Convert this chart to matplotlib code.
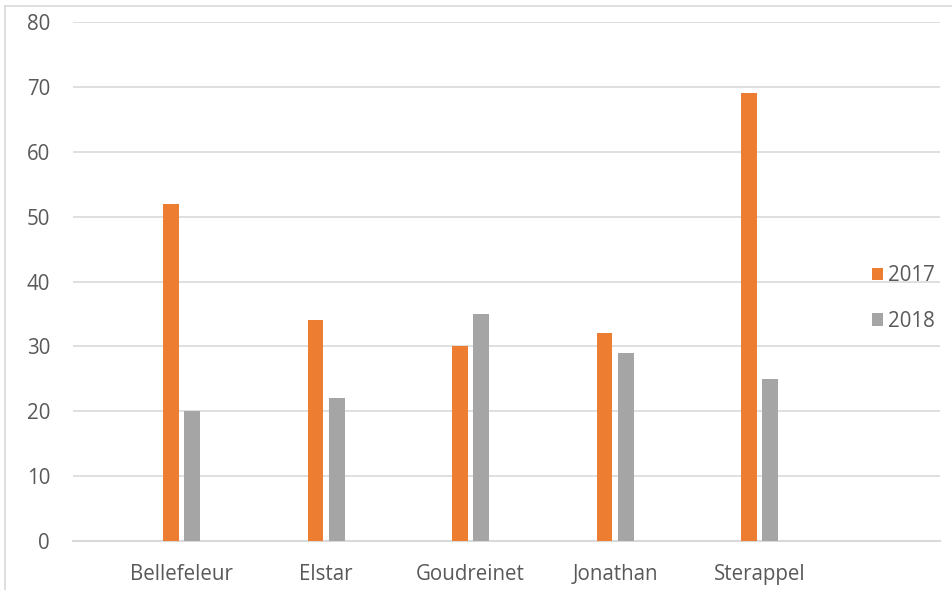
import numpy as np
import matplotlib.pyplot as plt
from matplotlib.lines import Line2D

categories = ["Bellefeleur", "Elstar", "Goudreinet", "Jonathan", "Sterappel"]
series_names = ["2017", "2018"]
vals_2017 = [52, 34, 30, 32, 69]
vals_2018 = [20, 22, 35, 29, 25]
yticks = [0, 10, 20, 30, 40, 50, 60, 70, 80]

orange = "#ED7D31"
grey = "#A5A5A5"
txt = "#595959"
grid = "#D9D9D9"

plt.rcParams['font.family'] = ['Open Sans', 'DejaVu Sans']

fig = plt.figure(figsize=(9.53, 5.9), dpi=100)
ax = fig.add_axes([73/953, 49/590, 867/953, 519/590])

# outer chart border (top and left visible)
fig.add_artist(Line2D([5/953, 1], [1 - 5.5/590] * 2, color=grid, lw=1.2, transform=fig.transFigure))
fig.add_artist(Line2D([5/953] * 2, [0, 1 - 5.5/590], color=grid, lw=1.2, transform=fig.transFigure))

x = np.arange(len(categories))
w = 0.11
ax.bar(x - 0.073, vals_2017, width=w, color=orange, label=series_names[0], zorder=3)
ax.bar(x + 0.073, vals_2018, width=w, color=grey, label=series_names[1], zorder=3)

ax.set_xlim(-0.751, 5.249)
ax.set_ylim(0, 80)
ax.set_yticks(yticks)
ax.set_xticks(x)
ax.set_xticklabels(categories)
ax.yaxis.grid(True, color=grid, lw=1.2, zorder=0)
for s in ["top", "right", "left"]:
    ax.spines[s].set_visible(False)
ax.spines["bottom"].set_color(grid)
ax.spines["bottom"].set_linewidth(1.5)
ax.tick_params(axis="both", length=0, colors=txt, labelsize=14.8)
ax.tick_params(axis="y", pad=16.5)
ax.tick_params(axis="x", pad=28)
for lbl in ax.get_xticklabels():
    lbl.set_va("baseline")

leg = ax.legend(loc="center left", bbox_to_anchor=(0.921, 0.467), frameon=False,
                handlelength=0.55, handleheight=0.55, handletextpad=0.25, labelspacing=1.2,
                fontsize=14.8, borderaxespad=0, borderpad=0)
for t in leg.get_texts():
    t.set_color(txt)

fig.savefig("out.png", dpi=100)
